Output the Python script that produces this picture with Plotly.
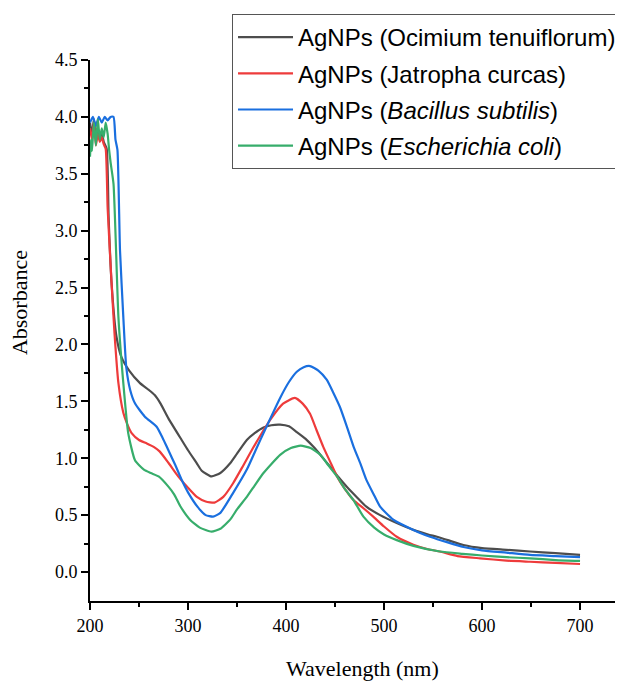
import plotly.graph_objects as go

# Ocimium tenuiflorum
wl_oci = [200, 202, 204, 206, 208, 210, 212, 214, 217, 219, 222, 227, 232, 240, 251, 260, 266, 272, 280,
          293.5, 300, 309, 314, 324, 333, 343, 350, 360, 368, 377, 385, 394, 403, 411, 420, 428, 436, 445,
          453, 462, 472, 482, 496, 513, 530, 545, 554, 565, 581, 600, 625, 649, 675, 700]
abs_oci = [3.95, 3.85, 3.98, 3.80, 3.90, 3.82, 3.86, 3.78, 3.72, 3.12, 2.54, 2.07, 1.89, 1.77, 1.66, 1.60, 1.555, 1.48, 1.35,
           1.16, 1.07, 0.955, 0.89, 0.84, 0.87, 0.955, 1.04, 1.16, 1.22, 1.27, 1.29, 1.295, 1.28, 1.23, 1.17, 1.10, 1.02, 0.925,
           0.84, 0.75, 0.66, 0.574, 0.50, 0.43, 0.37, 0.33, 0.31, 0.28, 0.237, 0.21, 0.195, 0.18, 0.165, 0.15]

# Jatropha curcas
wl_jat = [200, 202, 204, 206, 208, 210, 212, 214, 216, 218, 222, 225, 229, 234, 238, 242.5, 250, 258, 265, 271,
          280, 290, 300, 309, 318, 327, 336, 346, 356, 367, 376, 384, 397, 409, 417, 424.5, 431, 438, 445, 452,
          460, 469, 479, 489, 500, 513, 530, 545, 557, 575, 598, 625, 649, 675, 700]
abs_jat = [3.90, 3.80, 3.95, 3.75, 3.85, 3.78, 3.82, 3.76, 3.72, 3.20, 2.54, 2.10, 1.66, 1.40, 1.30, 1.22, 1.16, 1.13, 1.10, 1.06,
           0.96, 0.84, 0.74, 0.66, 0.62, 0.61, 0.66, 0.78, 0.93, 1.10, 1.23, 1.34, 1.48, 1.53, 1.48, 1.39, 1.25, 1.10, 0.97, 0.84,
           0.73, 0.63, 0.56, 0.486, 0.40, 0.31, 0.24, 0.20, 0.18, 0.14, 0.12, 0.10, 0.09, 0.08, 0.07]

# Bacillus subtilis
wl_bac = [200, 203, 206, 209, 212, 215, 218, 221, 224, 226, 228, 230.6, 234, 237, 241, 246, 256, 268, 274, 280,
          287, 293.5, 300, 310, 318, 325.5, 333, 345, 360, 369, 378.6, 394, 403, 411, 418, 424.5, 433, 441.5, 448,
          455, 462, 469, 476, 482, 489, 496, 508, 520, 535, 547, 565, 581, 600, 625, 649, 675, 700]
abs_bac = [3.95, 4.00, 3.92, 4.00, 3.95, 4.00, 3.97, 4.00, 4.00, 3.80, 3.71, 2.83, 2.24, 1.80, 1.60, 1.48, 1.365, 1.277, 1.18, 1.07,
           0.94, 0.81, 0.70, 0.57, 0.50, 0.486, 0.52, 0.68, 0.90, 1.07, 1.25, 1.53, 1.67, 1.76, 1.80, 1.81, 1.77, 1.69, 1.58,
           1.45, 1.28, 1.10, 0.95, 0.81, 0.69, 0.574, 0.47, 0.41, 0.35, 0.31, 0.26, 0.22, 0.19, 0.17, 0.15, 0.14, 0.13]

# Escherichia coli
wl_eco = [200, 201, 202, 204, 206, 208, 210, 212, 214, 216, 218, 219.5, 221, 224, 229, 234, 239, 246, 255, 262,
          270, 280, 286, 292, 302, 312, 324, 333, 343, 350, 360, 368, 377, 394, 405, 415, 425, 435, 443, 452,
          460, 469, 479, 490, 500, 513, 530, 557, 580, 600, 625, 649, 675, 700]
abs_eco = [3.65, 3.80, 3.70, 3.95, 3.75, 3.98, 3.80, 3.90, 3.82, 3.95, 3.85, 3.71, 3.60, 3.41, 2.24, 1.66, 1.22, 0.98, 0.90, 0.87,
           0.84, 0.75, 0.68, 0.58, 0.46, 0.39, 0.355, 0.38, 0.46, 0.55, 0.66, 0.76, 0.87, 1.03, 1.09, 1.11, 1.09, 1.03, 0.94, 0.84,
           0.73, 0.63, 0.486, 0.39, 0.33, 0.28, 0.23, 0.18, 0.16, 0.145, 0.13, 0.12, 0.105, 0.097]

series = [
    ("AgNPs (Ocimium tenuiflorum)", wl_oci, abs_oci, "#4d4d4d"),
    ("AgNPs (Jatropha curcas)", wl_jat, abs_jat, "#ee3b3b"),
    ("AgNPs (<i>Bacillus subtilis</i>)", wl_bac, abs_bac, "#1a6fdf"),
    ("AgNPs (<i>Escherichia coli</i>)", wl_eco, abs_eco, "#37ad6b"),
]

fig = go.Figure()
for i, (name, x, y, color) in enumerate(series):
    fig.add_trace(go.Scatter(x=x, y=y, mode="lines", name=name, legendgroup=str(i),
                             line=dict(color=color, width=2.2, shape="spline", smoothing=0.5)))

# page body has an 8px margin, so the figure margins are shifted to compensate
serif = "Liberation Serif, Times New Roman, serif"
axis_font = dict(family=serif, size=18, color="black")
fig.update_layout(
    width=623, height=686,
    margin=dict(l=82, r=0, t=52, b=93, autoexpand=False),
    plot_bgcolor="white", paper_bgcolor="white",
    legend=dict(x=0.2625, y=1.085, xanchor="left", yanchor="top", tracegroupgap=2, itemwidth=55,
                font=dict(family="Liberation Sans, Arial, sans-serif", size=24, color="black"),
                bordercolor="#555555", borderwidth=1, bgcolor="white"),
)
fig.update_xaxes(
    range=[200, 752], tickvals=[200, 300, 400, 500, 600, 700], automargin=False,
    showline=True, linecolor="black", linewidth=2, showgrid=False, zeroline=False,
    ticks="outside", ticklen=7, tickwidth=2, tickcolor="black", tickfont=axis_font,
    minor=dict(tickvals=[250, 350, 450, 550, 650], ticks="outside", ticklen=4, tickwidth=2, tickcolor="black"),
)
fig.update_yaxes(
    range=[-0.255, 4.5], tickvals=[0, 0.5, 1, 1.5, 2, 2.5, 3, 3.5, 4, 4.5], tickformat=".1f", automargin=False,
    showline=True, linecolor="black", linewidth=2, showgrid=False, zeroline=False,
    ticks="outside", ticklen=7, tickwidth=2, tickcolor="black", tickfont=axis_font,
    minor=dict(tickvals=[0.25, 0.75, 1.25, 1.75, 2.25, 2.75, 3.25, 3.75, 4.25], ticks="outside", ticklen=4, tickwidth=2, tickcolor="black"),
)
fig.add_annotation(text="Wavelength (nm)", xref="paper", yref="paper", x=0.503, y=-0.124,
                   xanchor="center", yanchor="middle",
                   showarrow=False, font=dict(family=serif, size=22, color="black"))
fig.add_annotation(text="Absorbance", xref="paper", yref="paper", x=-0.129, y=0.551, textangle=-90,
                   xanchor="center", yanchor="middle",
                   showarrow=False, font=dict(family=serif, size=22, color="black"))

fig.write_html("out.html")
